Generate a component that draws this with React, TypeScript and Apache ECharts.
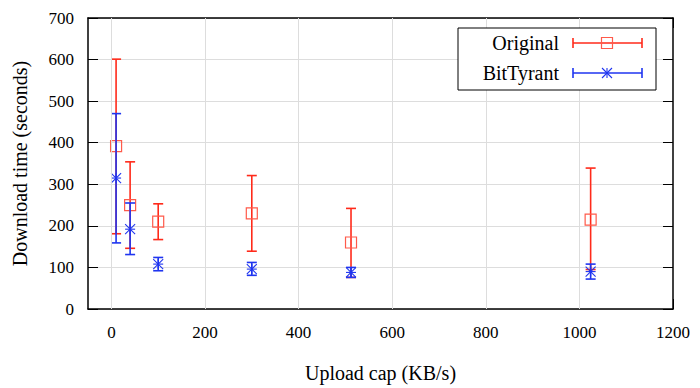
import React, { useEffect, useRef } from "react";
import * as echarts from "echarts";

const uploadCaps = [10, 40, 100, 300, 512, 1024];
const originalMean = [392, 250, 210, 230, 160, 215];
const originalLow = [181, 146, 167, 139, 76, 95];
const originalHigh = [601, 354, 253, 321, 242, 339];
const bittyrantMean = [315, 192, 108, 96, 88, 90];
const bittyrantLow = [159, 131, 92, 81, 76, 72];
const bittyrantHigh = [470, 255, 124, 112, 100, 108];
const seriesNames = ["Original", "BitTyrant"];
const xTicks = [0, 200, 400, 600, 800, 1000, 1200];

const RED = "#ff2a1a";
const RED_MARK = "#ff5a4a";
const BLUE = "#1f35f0";
const FONT = "Liberation Serif";

function makeRender(kind: "square" | "star", color: string, markColor: string) {
  return (params: any, api: any) => {
    const x = api.value(0);
    const y = api.value(1);
    const lo = api.value(2);
    const hi = api.value(3);
    const pc = api.coord([x, y]);
    const pl = api.coord([x, lo]);
    const ph = api.coord([x, hi]);
    const cw = 5;
    const lw = 1.6;
    const children: any[] = [
      { type: "line", shape: { x1: pl[0], y1: pl[1], x2: ph[0], y2: ph[1] }, style: { stroke: color, lineWidth: lw } },
      { type: "line", shape: { x1: pl[0] - cw, y1: pl[1], x2: pl[0] + cw, y2: pl[1] }, style: { stroke: color, lineWidth: lw } },
      { type: "line", shape: { x1: ph[0] - cw, y1: ph[1], x2: ph[0] + cw, y2: ph[1] }, style: { stroke: color, lineWidth: lw } },
    ];
    if (kind === "square") {
      children.push({
        type: "rect",
        shape: { x: pc[0] - 5.5, y: pc[1] - 5.5, width: 11, height: 11 },
        style: { fill: "none", stroke: markColor, lineWidth: 1.2 },
      });
    } else {
      const s = 5;
      children.push(
        { type: "line", shape: { x1: pc[0] - s, y1: pc[1], x2: pc[0] + s, y2: pc[1] }, style: { stroke: markColor, lineWidth: 1.1 } },
        { type: "line", shape: { x1: pc[0], y1: pc[1] - s, x2: pc[0], y2: pc[1] + s }, style: { stroke: markColor, lineWidth: 1.1 } },
        { type: "line", shape: { x1: pc[0] - s, y1: pc[1] - s, x2: pc[0] + s, y2: pc[1] + s }, style: { stroke: markColor, lineWidth: 1.1 } },
        { type: "line", shape: { x1: pc[0] - s, y1: pc[1] + s, x2: pc[0] + s, y2: pc[1] - s }, style: { stroke: markColor, lineWidth: 1.1 } }
      );
    }
    return { type: "group", children };
  };
}

export default function App() {
  const ref = useRef<HTMLDivElement>(null);
  useEffect(() => {
    if (!ref.current) return;
    const chart = echarts.init(ref.current, null, { renderer: "svg" });
    const origData = uploadCaps.map((x, i) => [x, originalMean[i], originalLow[i], originalHigh[i]]);
    const btData = uploadCaps.map((x, i) => [x, bittyrantMean[i], bittyrantLow[i], bittyrantHigh[i]]);
    const axisLine = { show: true, onZero: false, lineStyle: { color: "#000", width: 1.5 } };
    const tick = { show: true, inside: true, length: 10, lineStyle: { color: "#000", width: 1 } };
    const legendX = 573;
    const legendX2 = 642;
    const legendMid = 607;
    const r1 = 43;
    const r2 = 73;
    chart.setOption({
      animation: false,
      backgroundColor: "#fff",
      textStyle: { fontFamily: FONT },
      grid: { left: 88, right: 27, top: 18, bottom: 78.5, containLabel: false },
      xAxis: [
        {
          type: "value",
          min: -50,
          max: 1200,
          position: "bottom",
          name: "Upload cap (KB/s)",
          nameLocation: "middle",
          nameGap: 54,
          nameTextStyle: { fontFamily: FONT, fontSize: 20, color: "#000" },
          axisLine,
          axisTick: { ...tick, customValues: xTicks },
          axisLabel: {
            fontFamily: FONT,
            fontSize: 17,
            color: "#000",
            margin: 15,
            customValues: xTicks,
            formatter: (v: number) => String(v),
          },
          splitLine: { show: false },
        },
        {
          type: "value",
          min: -50,
          max: 1200,
          position: "top",
          axisLine,
          axisTick: { ...tick, customValues: xTicks },
          axisLabel: { show: false },
          splitLine: { show: false },
        },
      ],
      yAxis: [
        {
          type: "value",
          min: 0,
          max: 700,
          interval: 100,
          position: "left",
          name: "Download time (seconds)",
          nameLocation: "middle",
          nameGap: 58,
          nameTextStyle: { fontFamily: FONT, fontSize: 20, color: "#000" },
          axisLine,
          axisTick: tick,
          axisLabel: { fontFamily: FONT, fontSize: 17, color: "#000", margin: 14 },
          splitLine: { show: true, lineStyle: { color: "#dddddd", width: 1 } },
        },
        {
          type: "value",
          min: 0,
          max: 700,
          interval: 100,
          position: "right",
          axisLine,
          axisTick: tick,
          axisLabel: { show: false },
          splitLine: { show: false },
        },
      ],
      series: [
        {
          type: "line",
          data: [],
          silent: true,
          z: 1,
          markLine: {
            silent: true,
            symbol: "none",
            label: { show: false },
            lineStyle: { color: "#dddddd", width: 1, type: "solid" },
            data: xTicks.slice(0, -1).map((v) => ({ xAxis: v })),
          },
        },
        {
          name: seriesNames[0],
          type: "custom",
          renderItem: makeRender("square", RED, RED_MARK),
          data: origData,
          encode: { x: 0, y: [1, 2, 3] },
          z: 3,
        },
        {
          name: seriesNames[1],
          type: "custom",
          renderItem: makeRender("star", BLUE, BLUE),
          data: btData,
          encode: { x: 0, y: [1, 2, 3] },
          z: 4,
        },
      ],
      graphic: [
        {
          type: "rect",
          shape: { x: 458, y: 28, width: 198, height: 62 },
          style: { fill: "#fff", stroke: "#000", lineWidth: 1 },
          z: 10,
        },
        {
          type: "text",
          x: 559,
          y: r1,
          style: { text: seriesNames[0], font: `20px ${FONT}`, fill: "#000", align: "right", verticalAlign: "middle" },
          z: 11,
        },
        {
          type: "text",
          x: 559,
          y: r2,
          style: { text: seriesNames[1], font: `20px ${FONT}`, fill: "#000", align: "right", verticalAlign: "middle" },
          z: 11,
        },
        { type: "line", shape: { x1: legendX, y1: r1, x2: legendX2, y2: r1 }, style: { stroke: RED, lineWidth: 1.6 }, z: 11 },
        { type: "line", shape: { x1: legendX, y1: r1 - 5, x2: legendX, y2: r1 + 5 }, style: { stroke: RED, lineWidth: 1.6 }, z: 11 },
        { type: "line", shape: { x1: legendX2, y1: r1 - 5, x2: legendX2, y2: r1 + 5 }, style: { stroke: RED, lineWidth: 1.6 }, z: 11 },
        {
          type: "rect",
          shape: { x: legendMid - 5.5, y: r1 - 5.5, width: 11, height: 11 },
          style: { fill: "none", stroke: RED_MARK, lineWidth: 1.2 },
          z: 12,
        },
        { type: "line", shape: { x1: legendX, y1: r2, x2: legendX2, y2: r2 }, style: { stroke: BLUE, lineWidth: 1.6 }, z: 11 },
        { type: "line", shape: { x1: legendX, y1: r2 - 5, x2: legendX, y2: r2 + 5 }, style: { stroke: BLUE, lineWidth: 1.6 }, z: 11 },
        { type: "line", shape: { x1: legendX2, y1: r2 - 5, x2: legendX2, y2: r2 + 5 }, style: { stroke: BLUE, lineWidth: 1.6 }, z: 11 },
        { type: "line", shape: { x1: legendMid, y1: r2 - 5, x2: legendMid, y2: r2 + 5 }, style: { stroke: BLUE, lineWidth: 1.1 }, z: 12 },
        { type: "line", shape: { x1: legendMid - 5, y1: r2 - 5, x2: legendMid + 5, y2: r2 + 5 }, style: { stroke: BLUE, lineWidth: 1.1 }, z: 12 },
        { type: "line", shape: { x1: legendMid - 5, y1: r2 + 5, x2: legendMid + 5, y2: r2 - 5 }, style: { stroke: BLUE, lineWidth: 1.1 }, z: 12 },
      ],
    });
    return () => chart.dispose();
  }, []);
  return <div ref={ref} style={{ position: "absolute", left: 0, top: 0, width: 700, height: 388 }} />;
}
